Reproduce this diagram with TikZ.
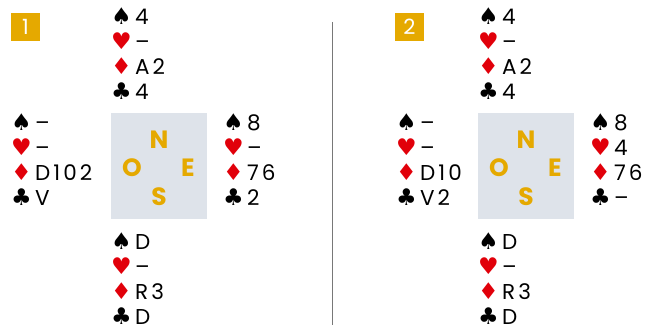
\documentclass[tikz,border=0pt]{standalone}
\usepackage{fontspec}
\setmainfont{Poppins}
\newfontfamily\handfont[LetterSpace=14]{Poppins}
\newfontfamily\suitfont{DejaVu Sans}
\definecolor{gold}{RGB}{229,169,0}
\definecolor{cardred}{RGB}{225,0,10}
\definecolor{boxgray}{RGB}{222,227,234}
\definecolor{divgray}{RGB}{120,120,120}
\newcommand\suitsym[2]{\makebox[24pt][l]{\fontsize{23}{24}\suitfont\color{#1}#2}}
\newcommand\bridgehand[7]{%
  \node[row] (#1-s) at (#2,#3) {\suitsym{black}{♠}#4};
  \node[row] (#1-h) at (#2,#3+25) {\suitsym{cardred}{♥}#5};
  \node[row] (#1-d) at (#2,#3+50) {\suitsym{cardred}{♦}#6};
  \node[row] (#1-c) at (#2,#3+75) {\suitsym{black}{♣}#7};
}
\tikzset{
  row/.style={anchor=base west,inner sep=0pt,font=\fontsize{21.5}{22}\selectfont\handfont},
  table/.style={fill=boxgray,draw=none},
  dir/.style={text=gold,inner sep=0pt,font=\fontsize{25}{26}\selectfont\bfseries},
  badge/.style={fill=gold,text=white,inner sep=0pt,minimum width=29pt,minimum height=28pt,font=\fontsize{21}{22}\selectfont}
}
\begin{document}
\begin{tikzpicture}[x=1pt,y=-1pt]
\useasboundingbox (0,0) rectangle (653,328);
% divider
\coordinate (divtop) at (332,22);
\coordinate (divbot) at (332,325);
\draw[divgray,line width=1pt] (divtop) -- (divbot);
% panel 1
\node[badge] (b1) at (25.5,27) {1};
\node[table,minimum width=96pt,minimum height=106pt,inner sep=0pt] (t1) at (159,166) {};
\node[dir] (t1n) at (159,140) {N};
\node[dir] (t1o) at (132,168) {O};
\node[dir] (t1e) at (188,168) {E};
\node[dir] (t1s) at (159,197) {S};
\bridgehand{n1}{111}{25}{4}{–}{A2}{4}
\bridgehand{w1}{11}{131}{–}{–}{D102}{V}
\bridgehand{e1}{223}{131}{8}{–}{76}{2}
\bridgehand{s1}{111}{249.5}{D}{–}{R3}{D}
% panel 2
\node[badge] (b2) at (409.5,27) {2};
\node[table,minimum width=96pt,minimum height=106pt,inner sep=0pt] (t2) at (526,166) {};
\node[dir] (t2n) at (526,140) {N};
\node[dir] (t2o) at (499,168) {O};
\node[dir] (t2e) at (555,168) {E};
\node[dir] (t2s) at (526,197) {S};
\bridgehand{n2}{478}{25}{4}{–}{A2}{4}
\bridgehand{w2}{396}{131}{–}{–}{D10}{V2}
\bridgehand{e2}{590}{131}{8}{4}{76}{–}
\bridgehand{s2}{478}{249.5}{D}{–}{R3}{D}
\end{tikzpicture}
\end{document}
